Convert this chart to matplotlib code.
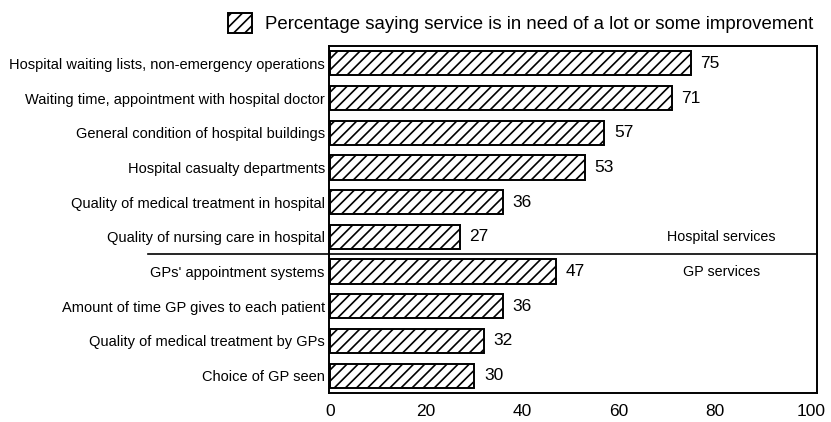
import matplotlib
matplotlib.use("Agg")
import matplotlib.pyplot as plt
from matplotlib.lines import Line2D

plt.rcParams['font.family'] = ['Liberation Sans', 'DejaVu Sans']
plt.rcParams['hatch.linewidth'] = 1.2

categories = [
    "Hospital waiting lists, non-emergency operations",
    "Waiting time, appointment with hospital doctor",
    "General condition of hospital buildings",
    "Hospital casualty departments",
    "Quality of medical treatment in hospital",
    "Quality of nursing care in hospital",
    "GPs' appointment systems",
    "Amount of time GP gives to each patient",
    "Quality of medical treatment by GPs",
    "Choice of GP seen",
]
values = [75, 71, 57, 53, 36, 27, 47, 36, 32, 30]
xticks = [0, 20, 40, 60, 80, 100]
legend_label = "Percentage saying service is in need of a lot or some improvement"
section_labels = ["Hospital services", "GP services"]
n_hospital = 6

fig = plt.figure(figsize=(8.31, 4.22), dpi=100)
ax = fig.add_axes([329 / 831, 1 - 393 / 422, 488 / 831, 347 / 422])

ypos = list(range(len(categories)))
bars = ax.barh(ypos, values, height=0.7, color="white", edgecolor="black",
               linewidth=1.4, hatch="///", label=legend_label)

for y, v in zip(ypos, values):
    ax.text(v + 2.0, y, str(v), va="center", ha="left", fontsize=12.5)

ax.set_xlim(-0.2, 101.2)
ax.set_ylim(len(categories) - 0.5, -0.5)
ax.set_yticks(ypos)
ax.set_yticklabels(categories, fontsize=10.5)
ax.set_xticks(xticks)
ax.set_xticklabels([str(t) for t in xticks], fontsize=12.5)
ax.tick_params(axis="both", length=0, pad=3)
ax.tick_params(axis="x", pad=8)
for s in ax.spines.values():
    s.set_linewidth(1.4)

# divider between hospital and GP services, extending under the labels
sep_y = n_hospital - 0.5
x0 = (148 - 329) / 488
ax.add_line(Line2D([x0, 1.0], [sep_y, sep_y], color="black", linewidth=1.2,
                   transform=ax.get_yaxis_transform(), clip_on=False))

ax.text(81.3, n_hospital - 1, section_labels[0], ha="center", va="center", fontsize=10.3)
ax.text(81.3, n_hospital, section_labels[1], ha="center", va="center", fontsize=10.3)

fig.legend(handles=[bars.patches[0]], labels=[legend_label],
           loc="upper left", bbox_to_anchor=(215 / 831, 1.0), frameon=False,
           fontsize=13.4, handlelength=1.3, handleheight=1.3, handletextpad=0.7,
           borderaxespad=0.3)

fig.savefig("out.png", dpi=100)
